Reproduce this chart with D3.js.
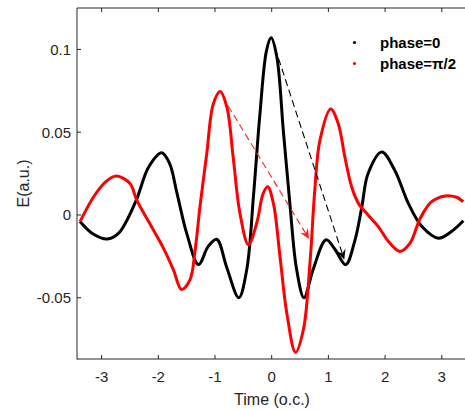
<!DOCTYPE html>
<html>
<head>
<meta charset="utf-8">
<script src="https://cdn.jsdelivr.net/npm/d3@7"></script>
<style>
  body { margin: 0; background: #fff; }
  svg { display: block; font-family: "Liberation Sans", Arial, sans-serif; }
</style>
</head>
<body>
<svg width="465" height="410"></svg>
<script>
// phase = 0 pulse
let tBlack = [-3.38, -3.17, -2.9, -2.7, -2.4, -2.17, -1.94, -1.8, -1.676, -1.50, -1.29, -1.12, -0.97, -0.79, -0.58, -0.44, -0.32, -0.21, -0.09, -0.01,
  0.09, 0.205, 0.32, 0.44, 0.57, 0.73, 0.96, 1.12, 1.305, 1.47, 1.59, 1.70, 1.94, 2.17, 2.41, 2.65, 2.94, 3.17, 3.38]
let eBlack = [-0.004, -0.011, -0.0145, -0.011, 0.008, 0.029, 0.0376, 0.031, 0.014, -0.011, -0.030, -0.019, -0.0147, -0.032, -0.050, -0.033, 0.012, 0.060, 0.0996, 0.107,
  0.0956, 0.051, 0.007, -0.033, -0.050, -0.033, -0.015, -0.021, -0.030, -0.015, 0.005, 0.025, 0.038, 0.027, 0.007, -0.007, -0.014, -0.010, -0.0035]

// phase = pi/2 pulse
let tRed = [-3.38, -3.14, -2.93, -2.74, -2.5, -2.38, -2.146, -1.91, -1.735, -1.59, -1.44, -1.35, -1.265, -1.146, -1.03, -0.91, -0.79, -0.68, -0.56, -0.41, -0.265,
  -0.15, -0.07, 0.03, 0.146, 0.265, 0.42, 0.56, 0.675, 0.76, 0.85, 1.04, 1.175, 1.29, 1.41, 1.53, 1.70, 1.88, 2.06, 2.26, 2.44, 2.62, 2.82, 3.06, 3.26, 3.38]
let eRed = [-0.004, 0.011, 0.020, 0.0235, 0.019, 0.009, -0.0055, -0.020, -0.033, -0.045, -0.039, -0.021, 0.005, 0.037, 0.067, 0.0745, 0.065, 0.035, 0.001, -0.018, -0.005,
  0.013, 0.017, 0.007, -0.025, -0.059, -0.083, -0.069, -0.029, 0.015, 0.045, 0.064, 0.055, 0.035, 0.017, 0.007, 0.0, -0.007, -0.016, -0.022, -0.017, -0.002, 0.008, 0.0115, 0.0107, 0.008]

// dashed arrows: [t0, e0, t1, e1]
let arrowBlack = [0.12, 0.0946, 1.28, -0.027]
let arrowRed = [-0.77, 0.066, 0.66, -0.0145]

let xTicks = [-3, -2, -1, 0, 1, 2, 3]
let yTicks = [-0.05, 0, 0.05, 0.1]
let yTickLabels = ["-0.05", "0", "0.05", "0.1"]
let legendNames = ["phase=0", "phase=\u03c0/2"]
let colors = ["#000000", "#ff0000"]

let x = d3.scaleLinear().domain([-3.434, 3.434]).range([77, 466.4])
let y = d3.scaleLinear().domain([-0.087, 0.125]).range([359, 8])

let svg = d3.select("svg")
let axisColor = "#262626"

let line = d3.line()
    .curve(d3.curveCatmullRom.alpha(0.5))
    .x(function (d) { return x(d[0]) })
    .y(function (d) { return y(d[1]) })

function add_curves() {
    let series = [d3.zip(tBlack, eBlack), d3.zip(tRed, eRed)]
    series.forEach(function (s, i) {
        svg.append("path")
            .datum(s)
            .attr("d", line)
            .attr("fill", "none")
            .attr("stroke", colors[i])
            .attr("stroke-width", 3)
            .attr("stroke-linejoin", "round")
    })
}

function add_arrow(a, color) {
    let x0 = x(a[0]), y0 = y(a[1]), x1 = x(a[2]), y1 = y(a[3])
    let ang = Math.atan2(y1 - y0, x1 - x0) * 180 / Math.PI
    let len = Math.hypot(x1 - x0, y1 - y0)
    let g = svg.append("g")
        .attr("transform", "translate(" + x0 + "," + y0 + ") rotate(" + ang + ")")
    g.append("line")
        .attr("x1", 0).attr("y1", 0)
        .attr("x2", len - 6).attr("y2", 0)
        .attr("stroke", color)
        .attr("stroke-width", 1.1)
        .attr("stroke-dasharray", "7,4")
    g.append("path")
        .attr("d", "M" + len + ",0 L" + (len - 10) + ",-4.5 L" + (len - 6.5) + ",0 L" + (len - 10) + ",4.5 Z")
        .attr("fill", color)
}

function add_axis() {
    let frame = svg.append("g")
        .attr("stroke", axisColor)
        .attr("stroke-width", 1)
        .attr("fill", "none")
    frame.append("line").attr("x1", 77).attr("x2", 77).attr("y1", 8).attr("y2", 359.5)
    frame.append("line").attr("x1", 77).attr("x2", 466.4).attr("y1", 359).attr("y2", 359)
    frame.append("line").attr("x1", 77).attr("x2", 466.4).attr("y1", 8).attr("y2", 8)

    xTicks.forEach(function (t) {
        frame.append("line").attr("x1", x(t)).attr("x2", x(t)).attr("y1", 359).attr("y2", 355)
        frame.append("line").attr("x1", x(t)).attr("x2", x(t)).attr("y1", 8).attr("y2", 12)
    })
    yTicks.forEach(function (v) {
        frame.append("line").attr("x1", 77).attr("x2", 81).attr("y1", y(v)).attr("y2", y(v))
    })

    svg.append("g").selectAll("text")
        .data(xTicks)
        .join("text")
        .attr("x", function (d) { return x(d) })
        .attr("y", 382)
        .attr("text-anchor", "middle")
        .attr("fill", axisColor)
        .style("font-size", "15px")
        .text(function (d) { return d })

    svg.append("g").selectAll("text")
        .data(yTicks)
        .join("text")
        .attr("x", 71)
        .attr("y", function (d) { return y(d) + 5.5 })
        .attr("text-anchor", "end")
        .attr("fill", axisColor)
        .style("font-size", "15px")
        .text(function (d, i) { return yTickLabels[i] })

    svg.append("text")
        .attr("x", 272)
        .attr("y", 405)
        .attr("text-anchor", "middle")
        .attr("fill", axisColor)
        .style("font-size", "16px")
        .text("Time (o.c.)")

    svg.append("text")
        .attr("transform", "translate(29,183.5) rotate(-90)")
        .attr("text-anchor", "middle")
        .attr("fill", axisColor)
        .style("font-size", "16px")
        .text("E(a.u.)")
}

function add_legend() {
    let g = svg.append("g")
    legendNames.forEach(function (name, i) {
        let yy = 42.5 + i * 21
        g.append("circle")
            .attr("cx", 354.5).attr("cy", yy).attr("r", 1.6)
            .attr("fill", colors[i])
        g.append("text")
            .attr("x", 380)
            .attr("y", yy + 5)
            .attr("fill", "#000")
            .style("font-size", "15px")
            .style("font-weight", "bold")
            .text(name)
    })
}

add_curves()
add_arrow(arrowBlack, "#000000")
add_arrow(arrowRed, "#ff2020")
add_axis()
add_legend()
</script>
</body>
</html>
